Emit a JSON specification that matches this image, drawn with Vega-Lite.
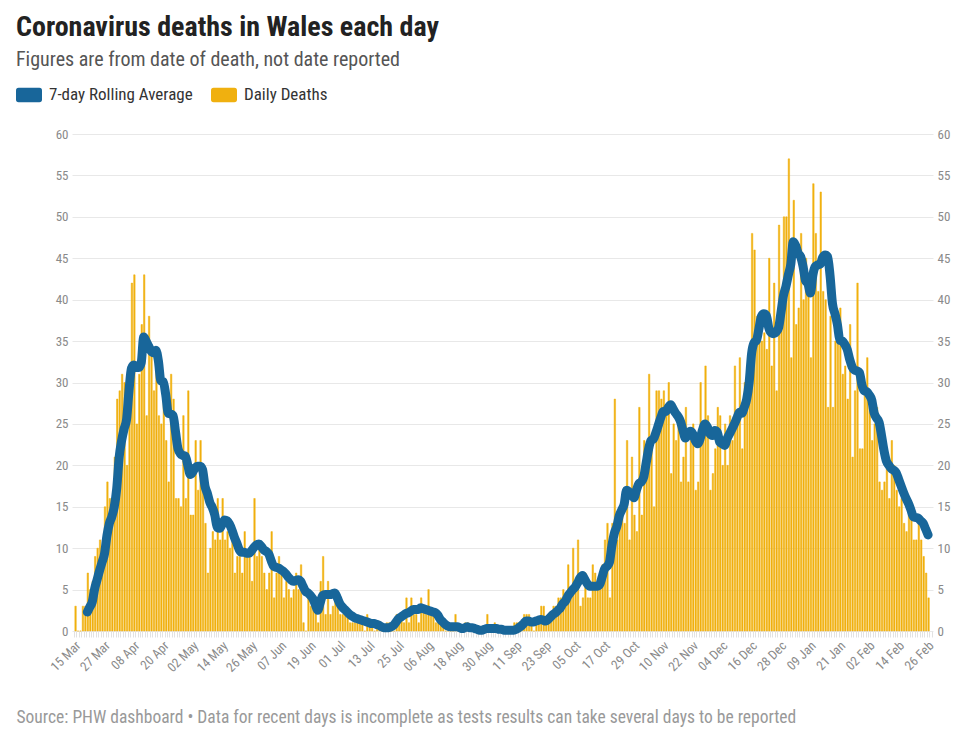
{
"$schema":"https://vega.github.io/schema/vega-lite/v6.json",
"width":861,"height":497,
"autosize":{"type":"none"},
"padding":{"left":72,"top":134,"right":30,"bottom":98},
"background":"white",
"config":{"view":{"stroke":null},"font":"'Roboto Condensed', 'Liberation Sans Narrow', 'DejaVu Sans Condensed', Roboto, sans-serif"},
"title":{"text":"Coronavirus deaths in Wales each day","subtitle":"Figures are from date of death, not date reported","anchor":"start","frame":"group","dx":-56,"fontSize":28,"fontWeight":"bold","color":"#222222","subtitleFontSize":20,"subtitleColor":"#555555","subtitlePadding":8,"offset":12},
"data":{"format":{"parse":{"date":"date:'%Y-%m-%d'"}},"values":[
{"date":"2020-03-15","deaths":3},{"date":"2020-03-16","deaths":0},{"date":"2020-03-17","deaths":0},{"date":"2020-03-18","deaths":3},{"date":"2020-03-19","deaths":3},
{"date":"2020-03-20","deaths":7,"avg":2.3},{"date":"2020-03-21","deaths":5,"avg":2.9},{"date":"2020-03-22","deaths":6,"avg":3.5},{"date":"2020-03-23","deaths":9,"avg":5.1},{"date":"2020-03-24","deaths":10,"avg":6.2},{"date":"2020-03-25","deaths":11,"avg":7.3},{"date":"2020-03-26","deaths":10,"avg":8.3},{"date":"2020-03-27","deaths":15,"avg":9.3},{"date":"2020-03-28","deaths":18,"avg":11.5},{"date":"2020-03-29","deaths":16,"avg":13},{"date":"2020-03-30","deaths":16,"avg":13.8},{"date":"2020-03-31","deaths":21,"avg":15},
{"date":"2020-04-01","deaths":28,"avg":17.2},{"date":"2020-04-02","deaths":29,"avg":21},{"date":"2020-04-03","deaths":31,"avg":23},{"date":"2020-04-04","deaths":30,"avg":24.4},{"date":"2020-04-05","deaths":20,"avg":25.5},{"date":"2020-04-06","deaths":32,"avg":29},{"date":"2020-04-07","deaths":42,"avg":31.7},{"date":"2020-04-08","deaths":43,"avg":32.1},{"date":"2020-04-09","deaths":25,"avg":31.8},{"date":"2020-04-10","deaths":31,"avg":31.8},{"date":"2020-04-11","deaths":37,"avg":32.4},{"date":"2020-04-12","deaths":43,"avg":35.5},{"date":"2020-04-13","deaths":26,"avg":35},{"date":"2020-04-14","deaths":38,"avg":34.4},{"date":"2020-04-15","deaths":34,"avg":33.8},{"date":"2020-04-16","deaths":29,"avg":33.6},{"date":"2020-04-17","deaths":34,"avg":33.9},{"date":"2020-04-18","deaths":26,"avg":32.6},{"date":"2020-04-19","deaths":25,"avg":30.2},{"date":"2020-04-20","deaths":30,"avg":30.1},{"date":"2020-04-21","deaths":23,"avg":28.5},{"date":"2020-04-22","deaths":18,"avg":26.3},{"date":"2020-04-23","deaths":31,"avg":26.2},{"date":"2020-04-24","deaths":28,"avg":26},{"date":"2020-04-25","deaths":16,"avg":24},{"date":"2020-04-26","deaths":16,"avg":22},{"date":"2020-04-27","deaths":15,"avg":21.4},{"date":"2020-04-28","deaths":26,"avg":21.2},{"date":"2020-04-29","deaths":16,"avg":21.1},{"date":"2020-04-30","deaths":29,"avg":20},
{"date":"2020-05-01","deaths":14,"avg":18.9},{"date":"2020-05-02","deaths":14,"avg":19.2},{"date":"2020-05-03","deaths":23,"avg":19.7},{"date":"2020-05-04","deaths":17,"avg":19.9},{"date":"2020-05-05","deaths":23,"avg":19.9},{"date":"2020-05-06","deaths":18,"avg":19.5},{"date":"2020-05-07","deaths":13,"avg":17.5},{"date":"2020-05-08","deaths":7,"avg":16.6},{"date":"2020-05-09","deaths":10,"avg":15.5},{"date":"2020-05-10","deaths":12,"avg":14.9},{"date":"2020-05-11","deaths":11,"avg":14},{"date":"2020-05-12","deaths":16,"avg":12.5},{"date":"2020-05-13","deaths":11,"avg":12.4},{"date":"2020-05-14","deaths":16,"avg":12.9},{"date":"2020-05-15","deaths":11,"avg":13.4},{"date":"2020-05-16","deaths":12,"avg":13.3},{"date":"2020-05-17","deaths":10,"avg":12.9},{"date":"2020-05-18","deaths":12,"avg":12.2},{"date":"2020-05-19","deaths":7,"avg":11.3},{"date":"2020-05-20","deaths":9,"avg":10.6},{"date":"2020-05-21","deaths":9,"avg":9.8},{"date":"2020-05-22","deaths":7,"avg":9.5},{"date":"2020-05-23","deaths":12,"avg":9.5},{"date":"2020-05-24","deaths":9,"avg":9.4},{"date":"2020-05-25","deaths":9,"avg":9.4},{"date":"2020-05-26","deaths":6,"avg":9.7},{"date":"2020-05-27","deaths":16,"avg":10.1},{"date":"2020-05-28","deaths":9,"avg":10.4},{"date":"2020-05-29","deaths":10,"avg":10.5},{"date":"2020-05-30","deaths":9,"avg":10.2},{"date":"2020-05-31","deaths":7,"avg":9.8},
{"date":"2020-06-01","deaths":5,"avg":9.6},{"date":"2020-06-02","deaths":7,"avg":9.3},{"date":"2020-06-03","deaths":12,"avg":8.5},{"date":"2020-06-04","deaths":4,"avg":7.8},{"date":"2020-06-05","deaths":7,"avg":7.7},{"date":"2020-06-06","deaths":9,"avg":7.6},{"date":"2020-06-07","deaths":7,"avg":7.4},{"date":"2020-06-08","deaths":4,"avg":7.2},{"date":"2020-06-09","deaths":6,"avg":6.9},{"date":"2020-06-10","deaths":5,"avg":6.5},{"date":"2020-06-11","deaths":4,"avg":6.2},{"date":"2020-06-12","deaths":5,"avg":6},{"date":"2020-06-13","deaths":7,"avg":6.1},{"date":"2020-06-14","deaths":5,"avg":6.2},{"date":"2020-06-15","deaths":8,"avg":6},{"date":"2020-06-16","deaths":1,"avg":5.4},{"date":"2020-06-17","deaths":0,"avg":4.8},{"date":"2020-06-18","deaths":4,"avg":4.6},{"date":"2020-06-19","deaths":3,"avg":4.3},{"date":"2020-06-20","deaths":4,"avg":3.9},{"date":"2020-06-21","deaths":3,"avg":3.2},{"date":"2020-06-22","deaths":1,"avg":2.5},{"date":"2020-06-23","deaths":6,"avg":3.4},{"date":"2020-06-24","deaths":9,"avg":4.3},{"date":"2020-06-25","deaths":2,"avg":4.4},{"date":"2020-06-26","deaths":6,"avg":4.4},{"date":"2020-06-27","deaths":2,"avg":4.4},{"date":"2020-06-28","deaths":3,"avg":4.5},{"date":"2020-06-29","deaths":4,"avg":4.6},{"date":"2020-06-30","deaths":3,"avg":4},
{"date":"2020-07-01","deaths":2,"avg":3.3},{"date":"2020-07-02","deaths":2,"avg":2.9},{"date":"2020-07-03","deaths":2,"avg":2.6},{"date":"2020-07-04","deaths":2,"avg":2.3},{"date":"2020-07-05","deaths":1,"avg":2},{"date":"2020-07-06","deaths":1,"avg":1.8},{"date":"2020-07-07","deaths":1,"avg":1.6},{"date":"2020-07-08","deaths":1,"avg":1.5},{"date":"2020-07-09","deaths":1,"avg":1.4},{"date":"2020-07-10","deaths":1,"avg":1.3},{"date":"2020-07-11","deaths":0,"avg":1.2},{"date":"2020-07-12","deaths":2,"avg":1.1},{"date":"2020-07-13","deaths":1,"avg":1},{"date":"2020-07-14","deaths":1,"avg":0.9},{"date":"2020-07-15","deaths":0,"avg":0.9},{"date":"2020-07-16","deaths":1,"avg":0.8},{"date":"2020-07-17","deaths":1,"avg":0.7},{"date":"2020-07-18","deaths":0,"avg":0.5},{"date":"2020-07-19","deaths":0,"avg":0.4},{"date":"2020-07-20","deaths":1,"avg":0.4},{"date":"2020-07-21","deaths":1,"avg":0.4},{"date":"2020-07-22","deaths":0,"avg":0.5},{"date":"2020-07-23","deaths":0,"avg":0.7},{"date":"2020-07-24","deaths":2,"avg":1.1},{"date":"2020-07-25","deaths":2,"avg":1.5},{"date":"2020-07-26","deaths":2,"avg":1.7},{"date":"2020-07-27","deaths":1,"avg":1.9},{"date":"2020-07-28","deaths":4,"avg":2.1},{"date":"2020-07-29","deaths":1,"avg":2.2},{"date":"2020-07-30","deaths":4,"avg":2.4},{"date":"2020-07-31","deaths":2,"avg":2.6},
{"date":"2020-08-01","deaths":2,"avg":2.6},{"date":"2020-08-02","deaths":1,"avg":2.6},{"date":"2020-08-03","deaths":4,"avg":2.8},{"date":"2020-08-04","deaths":3,"avg":2.7},{"date":"2020-08-05","deaths":2,"avg":2.6},{"date":"2020-08-06","deaths":5,"avg":2.5},{"date":"2020-08-07","deaths":2,"avg":2.4},{"date":"2020-08-08","deaths":2,"avg":2.3},{"date":"2020-08-09","deaths":1,"avg":2.2},{"date":"2020-08-10","deaths":2,"avg":1.9},{"date":"2020-08-11","deaths":1,"avg":1.4},{"date":"2020-08-12","deaths":1,"avg":1.1},{"date":"2020-08-13","deaths":0,"avg":0.8},{"date":"2020-08-14","deaths":0,"avg":0.6},{"date":"2020-08-15","deaths":0,"avg":0.5},{"date":"2020-08-16","deaths":0,"avg":0.5},{"date":"2020-08-17","deaths":2,"avg":0.5},{"date":"2020-08-18","deaths":0,"avg":0.5},{"date":"2020-08-19","deaths":0,"avg":0.4},{"date":"2020-08-20","deaths":0,"avg":0.3},{"date":"2020-08-21","deaths":1,"avg":0.4},{"date":"2020-08-22","deaths":1,"avg":0.5},{"date":"2020-08-23","deaths":0,"avg":0.4},{"date":"2020-08-24","deaths":0,"avg":0.4},{"date":"2020-08-25","deaths":0,"avg":0.3},{"date":"2020-08-26","deaths":0,"avg":0.2},{"date":"2020-08-27","deaths":0,"avg":0.1},{"date":"2020-08-28","deaths":0,"avg":0.1},{"date":"2020-08-29","deaths":0,"avg":0.2},{"date":"2020-08-30","deaths":2,"avg":0.3},{"date":"2020-08-31","deaths":0,"avg":0.3},
{"date":"2020-09-01","deaths":0,"avg":0.3},{"date":"2020-09-02","deaths":1,"avg":0.3},{"date":"2020-09-03","deaths":0,"avg":0.3},{"date":"2020-09-04","deaths":0,"avg":0.2},{"date":"2020-09-05","deaths":0,"avg":0.2},{"date":"2020-09-06","deaths":0,"avg":0.1},{"date":"2020-09-07","deaths":0,"avg":0.1},{"date":"2020-09-08","deaths":0,"avg":0.1},{"date":"2020-09-09","deaths":0,"avg":0.1},{"date":"2020-09-10","deaths":1,"avg":0.1},{"date":"2020-09-11","deaths":1,"avg":0.2},{"date":"2020-09-12","deaths":1,"avg":0.4},{"date":"2020-09-13","deaths":1,"avg":0.6},{"date":"2020-09-14","deaths":2,"avg":0.9},{"date":"2020-09-15","deaths":2,"avg":1.2},{"date":"2020-09-16","deaths":2,"avg":1.2},{"date":"2020-09-17","deaths":1,"avg":1.1},{"date":"2020-09-18","deaths":0,"avg":1.1},{"date":"2020-09-19","deaths":1,"avg":1.2},{"date":"2020-09-20","deaths":1,"avg":1.3},{"date":"2020-09-21","deaths":3,"avg":1.4},{"date":"2020-09-22","deaths":3,"avg":1.3},{"date":"2020-09-23","deaths":1,"avg":1.2},{"date":"2020-09-24","deaths":1,"avg":1.4},{"date":"2020-09-25","deaths":2,"avg":1.7},{"date":"2020-09-26","deaths":3,"avg":2},{"date":"2020-09-27","deaths":3,"avg":2.2},{"date":"2020-09-28","deaths":4,"avg":2.5},{"date":"2020-09-29","deaths":4,"avg":2.8},{"date":"2020-09-30","deaths":5,"avg":3.3},
{"date":"2020-10-01","deaths":3,"avg":3.6},{"date":"2020-10-02","deaths":8,"avg":4.2},{"date":"2020-10-03","deaths":5,"avg":4.6},{"date":"2020-10-04","deaths":10,"avg":5},{"date":"2020-10-05","deaths":6,"avg":5.3},{"date":"2020-10-06","deaths":11,"avg":5.8},{"date":"2020-10-07","deaths":3,"avg":6.4},{"date":"2020-10-08","deaths":4,"avg":6.7},{"date":"2020-10-09","deaths":7,"avg":6.2},{"date":"2020-10-10","deaths":4,"avg":5.7},{"date":"2020-10-11","deaths":4,"avg":5.4},{"date":"2020-10-12","deaths":8,"avg":5.4},{"date":"2020-10-13","deaths":7,"avg":5.4},{"date":"2020-10-14","deaths":5,"avg":5.4},{"date":"2020-10-15","deaths":6,"avg":5.6},{"date":"2020-10-16","deaths":8,"avg":6.5},{"date":"2020-10-17","deaths":11,"avg":7.5},{"date":"2020-10-18","deaths":13,"avg":7.8},{"date":"2020-10-19","deaths":4,"avg":8.3},{"date":"2020-10-20","deaths":13,"avg":10.3},{"date":"2020-10-21","deaths":28,"avg":11.8},{"date":"2020-10-22","deaths":11,"avg":12.6},{"date":"2020-10-23","deaths":15,"avg":13.9},{"date":"2020-10-24","deaths":15,"avg":14.6},{"date":"2020-10-25","deaths":13,"avg":15.3},{"date":"2020-10-26","deaths":23,"avg":17},{"date":"2020-10-27","deaths":11,"avg":16.8},{"date":"2020-10-28","deaths":21,"avg":16.5},{"date":"2020-10-29","deaths":14,"avg":16.1},{"date":"2020-10-30","deaths":12,"avg":17},{"date":"2020-10-31","deaths":27,"avg":17.8},
{"date":"2020-11-01","deaths":14,"avg":18},{"date":"2020-11-02","deaths":23,"avg":18.6},{"date":"2020-11-03","deaths":22,"avg":20.3},{"date":"2020-11-04","deaths":31,"avg":22},{"date":"2020-11-05","deaths":23,"avg":23},{"date":"2020-11-06","deaths":15,"avg":23.2},{"date":"2020-11-07","deaths":29,"avg":24},{"date":"2020-11-08","deaths":29,"avg":24.9},{"date":"2020-11-09","deaths":28,"avg":25.8},{"date":"2020-11-10","deaths":29,"avg":26.5},{"date":"2020-11-11","deaths":26,"avg":26.5},{"date":"2020-11-12","deaths":30,"avg":27},{"date":"2020-11-13","deaths":19,"avg":27.3},{"date":"2020-11-14","deaths":25,"avg":26.8},{"date":"2020-11-15","deaths":23,"avg":26.3},{"date":"2020-11-16","deaths":25,"avg":25.9},{"date":"2020-11-17","deaths":18,"avg":25.3},{"date":"2020-11-18","deaths":21,"avg":24.2},{"date":"2020-11-19","deaths":27,"avg":23.3},{"date":"2020-11-20","deaths":18,"avg":23.7},{"date":"2020-11-21","deaths":23,"avg":24.1},{"date":"2020-11-22","deaths":25,"avg":23.8},{"date":"2020-11-23","deaths":17,"avg":23},{"date":"2020-11-24","deaths":18,"avg":22.6},{"date":"2020-11-25","deaths":30,"avg":23.2},{"date":"2020-11-26","deaths":25,"avg":24.3},{"date":"2020-11-27","deaths":32,"avg":25},{"date":"2020-11-28","deaths":26,"avg":24.6},{"date":"2020-11-29","deaths":17,"avg":23.8},{"date":"2020-11-30","deaths":19,"avg":23.6},
{"date":"2020-12-01","deaths":22,"avg":24.2},{"date":"2020-12-02","deaths":27,"avg":24},{"date":"2020-12-03","deaths":26,"avg":22.8},{"date":"2020-12-04","deaths":20,"avg":22.6},{"date":"2020-12-05","deaths":25,"avg":22.4},{"date":"2020-12-06","deaths":20,"avg":23.2},{"date":"2020-12-07","deaths":26,"avg":23.8},{"date":"2020-12-08","deaths":23,"avg":24.4},{"date":"2020-12-09","deaths":32,"avg":25},{"date":"2020-12-10","deaths":25,"avg":25.7},{"date":"2020-12-11","deaths":33,"avg":26.4},{"date":"2020-12-12","deaths":22,"avg":26.3},{"date":"2020-12-13","deaths":30,"avg":27},{"date":"2020-12-14","deaths":32,"avg":28},{"date":"2020-12-15","deaths":34,"avg":30},{"date":"2020-12-16","deaths":48,"avg":33.5},{"date":"2020-12-17","deaths":46,"avg":34.8},{"date":"2020-12-18","deaths":38,"avg":35.1},{"date":"2020-12-19","deaths":36,"avg":36.5},{"date":"2020-12-20","deaths":35,"avg":38},{"date":"2020-12-21","deaths":36,"avg":38.3},{"date":"2020-12-22","deaths":34,"avg":38.1},{"date":"2020-12-23","deaths":45,"avg":36.6},{"date":"2020-12-24","deaths":32,"avg":36},{"date":"2020-12-25","deaths":42,"avg":35.9},{"date":"2020-12-26","deaths":29,"avg":36.1},{"date":"2020-12-27","deaths":49,"avg":36.6},{"date":"2020-12-28","deaths":40,"avg":38.5},{"date":"2020-12-29","deaths":50,"avg":40.5},{"date":"2020-12-30","deaths":50,"avg":41.6},{"date":"2020-12-31","deaths":57,"avg":43},
{"date":"2021-01-01","deaths":33,"avg":44.3},{"date":"2021-01-02","deaths":52,"avg":47},{"date":"2021-01-03","deaths":37,"avg":46.5},{"date":"2021-01-04","deaths":39,"avg":45.6},{"date":"2021-01-05","deaths":48,"avg":45.2},{"date":"2021-01-06","deaths":40,"avg":44},{"date":"2021-01-07","deaths":45,"avg":42.3},{"date":"2021-01-08","deaths":42,"avg":41.9},{"date":"2021-01-09","deaths":33,"avg":40.8},{"date":"2021-01-10","deaths":54,"avg":43},{"date":"2021-01-11","deaths":48,"avg":44},{"date":"2021-01-12","deaths":41,"avg":44.2},{"date":"2021-01-13","deaths":53,"avg":44.3},{"date":"2021-01-14","deaths":41,"avg":45.1},{"date":"2021-01-15","deaths":40,"avg":45.4},{"date":"2021-01-16","deaths":27,"avg":45.2},{"date":"2021-01-17","deaths":38,"avg":42.9},{"date":"2021-01-18","deaths":27,"avg":39.5},{"date":"2021-01-19","deaths":35,"avg":38.3},{"date":"2021-01-20","deaths":35,"avg":37},{"date":"2021-01-21","deaths":39,"avg":35.1},{"date":"2021-01-22","deaths":31,"avg":35},{"date":"2021-01-23","deaths":32,"avg":34.6},{"date":"2021-01-24","deaths":28,"avg":34},{"date":"2021-01-25","deaths":37,"avg":32.8},{"date":"2021-01-26","deaths":21,"avg":31.9},{"date":"2021-01-27","deaths":29,"avg":31.5},{"date":"2021-01-28","deaths":42,"avg":31.4},{"date":"2021-01-29","deaths":22,"avg":31.2},{"date":"2021-01-30","deaths":22,"avg":29.7},{"date":"2021-01-31","deaths":29,"avg":29},
{"date":"2021-02-01","deaths":33,"avg":28.9},{"date":"2021-02-02","deaths":27,"avg":28.5},{"date":"2021-02-03","deaths":23,"avg":27.9},{"date":"2021-02-04","deaths":25,"avg":26.3},{"date":"2021-02-05","deaths":27,"avg":25.7},{"date":"2021-02-06","deaths":18,"avg":25.2},{"date":"2021-02-07","deaths":17,"avg":23.6},{"date":"2021-02-08","deaths":18,"avg":21.8},{"date":"2021-02-09","deaths":20,"avg":20.5},{"date":"2021-02-10","deaths":16,"avg":20},{"date":"2021-02-11","deaths":23,"avg":19.6},{"date":"2021-02-12","deaths":20,"avg":19.4},{"date":"2021-02-13","deaths":17,"avg":19.1},{"date":"2021-02-14","deaths":15,"avg":18.3},{"date":"2021-02-15","deaths":16,"avg":17.5},{"date":"2021-02-16","deaths":13,"avg":16.7},{"date":"2021-02-17","deaths":12,"avg":16},{"date":"2021-02-18","deaths":14,"avg":15.4},{"date":"2021-02-19","deaths":15,"avg":14.6},{"date":"2021-02-20","deaths":11,"avg":13.8},{"date":"2021-02-21","deaths":11,"avg":13.7},{"date":"2021-02-22","deaths":13,"avg":13.6},{"date":"2021-02-23","deaths":11,"avg":13.3},{"date":"2021-02-24","deaths":9,"avg":13},{"date":"2021-02-25","deaths":7,"avg":12.3},{"date":"2021-02-26","deaths":4,"avg":11.6}
]},
"layer":[
{"mark":{"type":"bar","color":"#f0b00f","stroke":"#f0b00f","strokeWidth":0.5,"timeUnitBandSize":0.93},
 "encoding":{
  "x":{"field":"date","type":"temporal","timeUnit":"yearmonthdate",
   "scale":{"domain":[{"year":2020,"month":3,"date":14,"hours":6},{"year":2021,"month":2,"date":28,"hours":12}]},
   "axis":{"tickCount":{"interval":"day","step":1},"labelExpr":"(round((datum.value - datetime(2020, 2, 15)) / 864e5) % 12 == 0) ? timeFormat(datum.value, '%d %b') : ''","labelOverlap":false,"labelAngle":-45,"labelFontSize":13,"labelColor":"#8a8a8a","labelPadding":2,"tickColor":"#e2e2e2","tickSize":6,"domain":false,"grid":false,
    "title":"Source: PHW dashboard • Data for recent days is incomplete as tests results can take several days to be reported","titleX":-56,"titleY":91,"titleAlign":"left","titleAnchor":"start","titleBaseline":"alphabetic","titleFontSize":17.5,"titleFontWeight":"normal","titleColor":"#999999"}},
  "y":{"field":"deaths","type":"quantitative","scale":{"domain":[0,60]},
   "axis":{"values":[0,5,10,15,20,25,30,35,40,45,50,55,60],"domain":false,"ticks":false,"labelColor":"#8a8a8a","labelFontSize":13,"labelPadding":4,"gridColor":"#e8e8e8","title":null}},
  "color":{"datum":"Daily Deaths","scale":{"domain":["7-day Rolling Average","Daily Deaths"],"range":["#18669a","#f0b00f"]},
   "legend":{"orient":"none","legendX":-56,"legendY":-52,"direction":"horizontal","title":null,"symbolType":"M -0.8 -0.55 H 0.8 Q 1 -0.55 1 -0.35 V 0.35 Q 1 0.55 0.8 0.55 H -0.8 Q -1 0.55 -1 0.35 V -0.35 Q -1 -0.55 -0.8 -0.55 Z","symbolSize":676,"symbolStrokeWidth":0,"symbolOpacity":1,"labelFontSize":17,"labelColor":"#333333","columnPadding":18,"labelOffset":7}}
 }},
{"transform":[{"filter":"datum.avg != null"}],
 "mark":{"type":"line","color":"#18669a","strokeWidth":9,"interpolate":"monotone","strokeCap":"round","strokeJoin":"round"},
 "encoding":{
  "x":{"field":"date","type":"temporal","timeUnit":"yearmonthdate","bandPosition":0.5},
  "y":{"field":"avg","type":"quantitative","scale":{"domain":[0,60]},
   "axis":{"orient":"right","values":[0,5,10,15,20,25,30,35,40,45,50,55,60],"domain":false,"ticks":false,"grid":false,"labelColor":"#8a8a8a","labelFontSize":13,"labelPadding":4,"title":null}}
 }}
],
"resolve":{"scale":{"y":"independent"}}
}
